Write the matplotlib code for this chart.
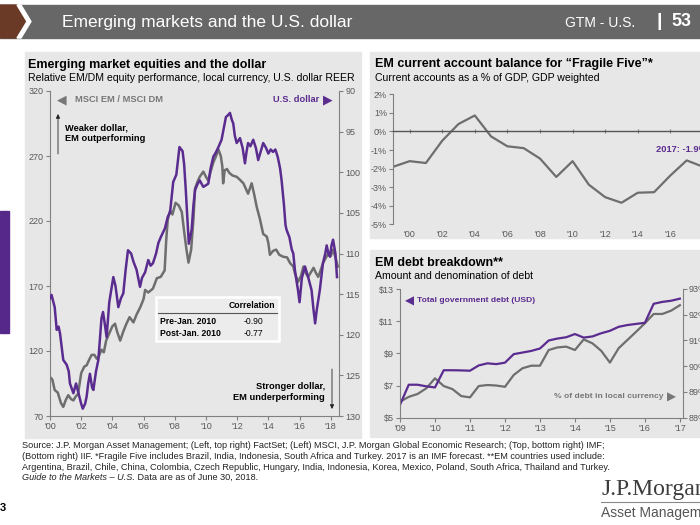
import matplotlib
matplotlib.use("Agg")
import matplotlib.pyplot as plt
from matplotlib.patches import Rectangle, Polygon
from matplotlib.transforms import Affine2D

plt.rcParams["font.family"] = ["Liberation Sans", "DejaVu Sans"]

# left panel: MSCI EM / MSCI DM (left axis), U.S. dollar REER (right axis, inverted)
em_dm_dates = [2000.0, 2000.15, 2000.3, 2000.5, 2000.7, 2000.85, 2001.0, 2001.17, 2001.35, 2001.5,
               2001.65, 2001.8, 2002.0, 2002.2, 2002.35, 2002.5, 2002.67, 2002.85, 2003.0, 2003.1,
               2003.3, 2003.45, 2003.6, 2003.85, 2004.0, 2004.17, 2004.3, 2004.5, 2004.7, 2004.9,
               2005.1, 2005.35, 2005.55, 2005.8, 2006.0, 2006.1, 2006.3, 2006.6, 2006.85, 2007.1,
               2007.35, 2007.45, 2007.55, 2007.7, 2007.85, 2008.05, 2008.25, 2008.45, 2008.6, 2008.75,
               2008.88, 2009.05, 2009.2, 2009.3, 2009.45, 2009.6, 2009.83, 2010.0, 2010.15, 2010.3,
               2010.47, 2010.65, 2010.8, 2010.95, 2011.05, 2011.1, 2011.2, 2011.35, 2011.5, 2011.7,
               2011.97, 2012.15, 2012.4, 2012.55, 2012.7, 2012.93, 2013.1, 2013.25, 2013.45, 2013.67,
               2013.9, 2014.0, 2014.1, 2014.3, 2014.5, 2014.7, 2014.95, 2015.2, 2015.4, 2015.6,
               2015.7, 2015.9, 2016.1, 2016.25, 2016.4, 2016.55, 2016.75, 2016.9, 2017.05, 2017.2,
               2017.35, 2017.5, 2017.7, 2017.85, 2018.0, 2018.15, 2018.3, 2018.45]
em_dm_ratio = [100, 98, 90, 88, 80, 77, 82, 86, 83, 82,
               85, 87, 103, 108, 109, 113, 117, 117, 114, 115,
               121, 119, 128, 135, 139, 141, 135, 128, 135, 141,
               146, 142, 148, 154, 160, 167, 165, 168, 176, 177,
               182, 205, 221, 228, 225, 234, 232, 227, 212, 198,
               188, 198, 222, 245, 250, 254, 258, 254, 251, 258,
               265, 270, 275, 270, 262, 249, 259, 260, 257, 255,
               254, 252, 249, 245, 241, 249, 240, 231, 222, 210,
               208, 203, 194, 197, 198, 194, 192.5, 192, 187.5, 185,
               180, 173, 178, 185, 180, 177, 181, 184, 180, 177,
               182, 187.5, 192, 195, 193, 198, 192, 185]
usd_dates = [2000.0, 2000.1, 2000.3, 2000.43, 2000.55, 2000.64, 2000.85, 2001.0, 2001.07, 2001.2,
             2001.28, 2001.5, 2001.6, 2001.67, 2001.8, 2001.88, 2002.0, 2002.1, 2002.25, 2002.35,
             2002.45, 2002.56, 2002.7, 2002.78, 2002.95, 2003.1, 2003.3, 2003.4, 2003.5, 2003.63,
             2003.8, 2004.06, 2004.2, 2004.38, 2004.55, 2004.7, 2004.85, 2005.0, 2005.2, 2005.35,
             2005.55, 2005.77, 2005.9, 2006.1, 2006.3, 2006.45, 2006.6, 2006.8, 2006.95, 2007.1,
             2007.37, 2007.55, 2007.7, 2007.9, 2008.1, 2008.3, 2008.5, 2008.6, 2008.7, 2008.8,
             2008.9, 2009.08, 2009.2, 2009.3, 2009.45, 2009.6, 2009.83, 2010.0, 2010.15, 2010.3,
             2010.47, 2010.65, 2010.8, 2011.0, 2011.15, 2011.28, 2011.4, 2011.54, 2011.65, 2011.75,
             2011.85, 2011.97, 2012.18, 2012.35, 2012.5, 2012.6, 2012.7, 2012.85, 2013.03, 2013.2,
             2013.35, 2013.5, 2013.67, 2013.85, 2014.0, 2014.15, 2014.3, 2014.45, 2014.6, 2014.75,
             2014.85, 2015.0, 2015.1, 2015.17, 2015.35, 2015.5, 2015.6, 2015.7, 2015.8, 2015.9,
             2016.0, 2016.15, 2016.35, 2016.55, 2016.77, 2016.9, 2017.0, 2017.1, 2017.3, 2017.5,
             2017.65, 2017.74, 2017.85, 2017.95, 2018.05, 2018.15, 2018.3, 2018.4]
usd_reer = [115.5, 115.1, 116.6, 119.4, 119.0, 119.8, 123.1, 123.5, 123.7, 124.5,
            126, 127.2, 126.5, 126, 127, 127.6, 128.5, 129.1, 128.5, 127.6,
            126, 124.8, 126.5, 126.8, 124.5, 123.1, 118, 117.2, 118.5, 120.3,
            116, 112.9, 114, 116.6, 115.5, 114.9, 112, 109.6, 110, 111,
            112, 114.1, 113, 112.3, 110.8, 111.5, 111.2, 110, 108.7, 108,
            106.9, 105.5, 104.9, 101.2, 100.3, 96.9, 97.4, 99, 102, 105.5,
            108.8, 107.1, 104, 102.2, 101.5, 101, 101.8, 101.6, 101.4, 99.5,
            98.1, 97.5, 96.9, 96.0, 94.5, 93.2, 93.0, 92.7, 93.5, 94,
            95.5, 96.4, 95.8, 97, 98.9, 97.5, 96.4, 96.8, 96, 97,
            98.5, 97.5, 96.4, 97, 97.7, 97.2, 97.5, 97.2, 98.1, 99.5,
            101, 104, 106.5, 107.1, 108, 109.5, 110, 112, 113.3, 114.5,
            116, 113, 111.6, 112.9, 114.5, 117, 118.6, 117, 114.5, 111.2,
            110, 109, 110, 110.4, 109, 108.3, 110, 112.9]
corr_periods = ["Pre-Jan. 2010", "Post-Jan. 2010"]
corr_values = [-0.90, -0.77]

# top right: current account, % of GDP
ca_years = list(range(1999, 2019))
ca_pct = [-1.9, -1.6, -1.7, -0.5, 0.4, 0.86, -0.27, -0.8, -0.9, -1.46,
          -2.45, -1.6, -2.87, -3.54, -3.84, -3.3, -3.27, -2.37, -1.56, -1.9]

# bottom right: quarterly debt
debt_quarters = [2009 + q / 4 for q in range(33)]
debt_usd = [5.8, 7.05, 7.05, 6.95, 6.88, 7.95, 7.95, 7.94, 7.92, 8.25, 8.38, 8.33,
            8.42, 8.95, 9.05, 9.15, 9.3, 9.8, 9.92, 10.0, 10.2, 9.98, 10.05, 10.25,
            10.4, 10.65, 10.76, 10.83, 10.9, 12.08, 12.2, 12.27, 12.4]
local_ccy_pct = [88.62, 88.81, 88.92, 89.14, 89.53, 89.23, 89.11, 88.84, 88.79, 89.23, 89.27, 89.25,
                 89.2, 89.66, 89.92, 90.02, 90.02, 90.63, 90.73, 90.76, 90.63, 91.04, 90.89, 90.6,
                 90.14, 90.7, 91.02, 91.34, 91.67, 92.03, 92.03, 92.16, 92.37]

PURPLE = "#5b2c8f"
GRAY = "#6e6e6e"
PANEL = "#e7e7e7"
TICK = "#595959"
SPINE = "#808080"

W, H = 700, 525
fig = plt.figure(figsize=(7, 5.25), dpi=100)
pix = Affine2D().scale(1 / W, -1 / H).translate(0, 1) + fig.transFigure


def box(x0, y0, x1, y1):
    return [x0 / W, 1 - y1 / H, (x1 - x0) / W, (y1 - y0) / H]


def rect(x0, y0, x1, y1, **kw):
    fig.add_artist(Rectangle((x0, y1), x1 - x0, y0 - y1, transform=pix, zorder=-5, **kw))


def style(ax, sides):
    for s in ["left", "right", "top", "bottom"]:
        ax.spines[s].set_visible(s in sides)
        ax.spines[s].set_color(SPINE)
    ax.set_facecolor("none")
    ax.tick_params(labelsize=6.5, colors=SPINE, labelcolor=TICK, length=3, width=0.8, pad=1.5)


# header
rect(0, 5, 700, 38, color="#676767")
fig.add_artist(Polygon([(0, 5), (17, 5), (27, 21.5), (17, 38), (0, 38)], closed=True,
                       transform=pix, color="#6b3a27", zorder=-4))
fig.add_artist(Polygon([(17, 5), (21, 5), (31, 21.5), (21, 38), (17, 38), (27, 21.5)], closed=True,
                       transform=pix, color="white", zorder=-4))
fig.text(62, 22, "Emerging markets and the U.S. dollar", transform=pix, color="white", fontsize=12.5,
         va="center")
fig.text(565, 23, "GTM - U.S.", transform=pix, color="white", fontsize=10, va="center")
fig.text(657, 22, "|", transform=pix, color="white", fontsize=14, va="center", fontweight="bold")
fig.text(671, 22, "53", transform=pix, color="white", fontsize=13, va="center", fontweight="bold")

# panels
rect(25, 52, 361, 438, color=PANEL)
rect(370, 52, 700, 238, color=PANEL)
rect(370, 250, 700, 437, color=PANEL)
rect(0, 211, 9, 333, color="#55288a")

fig.text(28, 65, "Emerging market equities and the dollar", transform=pix, fontsize=9,
         fontweight="bold", va="center")
fig.text(28, 78, "Relative EM/DM equity performance, local currency, U.S. dollar REER", transform=pix,
         fontsize=7.6, va="center")
fig.text(375, 64, "EM current account balance for \u201cFragile Five\u201d*", transform=pix, fontsize=9,
         fontweight="bold", va="center")
fig.text(375, 78, "Current accounts as a % of GDP, GDP weighted", transform=pix, fontsize=7.6, va="center")
fig.text(375, 263, "EM debt breakdown**", transform=pix, fontsize=9, fontweight="bold", va="center")
fig.text(375, 276, "Amount and denomination of debt", transform=pix, fontsize=7.6, va="center")

# ---- left chart
axL = fig.add_axes(box(50, 91, 339, 416))
style(axL, ["left", "bottom"])
axL.plot(em_dm_dates, em_dm_ratio, color=GRAY, lw=1.8)
axL.set_xlim(2000, 2018.53)
axL.set_ylim(70, 320)
axL.set_yticks([70, 120, 170, 220, 270, 320])
axL.set_xticks(range(2000, 2019, 2))
axL.set_xticklabels(["'%02d" % (y % 100) for y in range(2000, 2019, 2)])

axL2 = axL.twinx()
style(axL2, ["right"])
axL2.plot(usd_dates, usd_reer, color=PURPLE, lw=1.8)
axL2.set_ylim(130, 90)
axL2.set_yticks(range(90, 131, 5))

fig.text(57, 100, "\u25c0", transform=pix, color="#777777", fontsize=9, va="center", family="DejaVu Sans")
fig.text(75, 100, "MSCI EM / MSCI DM", transform=pix, color="#777777", fontsize=6.7,
         fontweight="bold", va="center")
fig.text(319, 100, "U.S. dollar", transform=pix, color=PURPLE, fontsize=6.7, fontweight="bold",
         va="center", ha="right")
fig.text(323, 100, "\u25b6", transform=pix, color=PURPLE, fontsize=9, va="center", family="DejaVu Sans")

fig.text(65, 133, "Weaker dollar,\nEM outperforming", transform=pix, fontsize=6.7, fontweight="bold",
         va="center", linespacing=1.15)
axL.annotate("", xy=(58, 114), xytext=(58, 154), xycoords=pix, textcoords=pix,
             arrowprops=dict(arrowstyle="-|>", color="#222222", lw=0.6, mutation_scale=6,
                             shrinkA=0, shrinkB=0))
fig.text(325, 392, "Stronger dollar,\nEM underperforming", transform=pix, fontsize=6.7,
         fontweight="bold", va="center", ha="right", linespacing=1.15)
axL.annotate("", xy=(332, 409), xytext=(332, 369), xycoords=pix, textcoords=pix,
             arrowprops=dict(arrowstyle="-|>", color="#222222", lw=0.6, mutation_scale=6,
                             shrinkA=0, shrinkB=0))

# correlation table
fig.add_artist(Rectangle((156, 341), 123, -44, transform=pix, facecolor="#ececec",
                         edgecolor="white", lw=1.8, zorder=3))
fig.add_artist(plt.Line2D([158, 277], [313, 313], transform=pix, color="#555555", lw=0.8, zorder=4))
fig.text(252, 306, "Correlation", transform=pix, fontsize=6.2, fontweight="bold", ha="center",
         va="center", zorder=5)
for i, (p, v) in enumerate(zip(corr_periods, corr_values)):
    fig.text(160, 321 + 13 * i, p, transform=pix, fontsize=6.2, fontweight="bold", va="center", zorder=5)
    fig.text(253, 321 + 13 * i, "%.2f" % v, transform=pix, fontsize=6.2, ha="center", va="center", zorder=5)

# ---- top right chart
axT = fig.add_axes(box(393.3, 94.3, 719.3, 224.3))
style(axT, ["left", "bottom"])
axT.spines["bottom"].set_position(("data", 0))
axT.spines["bottom"].set_color("#555555")
axT.spines["bottom"].set_linewidth(1.0)
axT.plot(ca_years, ca_pct, color=GRAY, lw=1.6)
axT.set_xlim(1999, 2019)
axT.set_ylim(-5, 2)
axT.set_yticks(range(-5, 3))
axT.set_yticklabels(["%d%%" % v for v in range(-5, 3)])
axT.set_xticks(range(2000, 2019, 2))
axT.tick_params(axis="x", direction="inout", length=3, labelbottom=False)
sec = axT.secondary_xaxis("bottom")
sec.spines["bottom"].set_visible(False)
sec.set_xticks(range(2000, 2017, 2))
sec.set_xticklabels(["'%02d" % (y % 100) for y in range(2000, 2017, 2)])
sec.tick_params(length=0, labelsize=6.5, labelcolor=TICK, pad=4)
axT.text(2015.1, -0.95, "%d: %.1f%%" % (ca_years[-2], ca_pct[-1]), color=PURPLE, fontsize=6.7,
         fontweight="bold", va="center")

# ---- bottom right chart
axB = fig.add_axes(box(400, 289, 682.7, 417.7))
style(axB, ["left", "bottom"])
axB.set_xlim(2009, 2017.08)
axB.set_ylim(5, 13)
axB.set_yticks(range(5, 14, 2))
axB.set_yticklabels(["$%d" % v for v in range(5, 14, 2)])
axB.set_xticks(range(2009, 2018))
axB.set_xticklabels(["'%02d" % (y % 100) for y in range(2009, 2018)])

axB2 = axB.twinx()
style(axB2, ["right"])
axB2.plot(debt_quarters, local_ccy_pct, color=GRAY, lw=1.6)
axB2.set_ylim(88, 93)
axB2.set_yticks(range(88, 94))
axB2.set_yticklabels(["%d%%" % v for v in range(88, 94)])
axB.plot(debt_quarters, debt_usd, color=PURPLE, lw=1.6)
axB.set_zorder(axB2.get_zorder() + 1)

fig.text(405, 301, "\u25c0", transform=pix, color=PURPLE, fontsize=8.5, va="center", family="DejaVu Sans")
fig.text(417, 301, "Total government debt (USD)", transform=pix, color=PURPLE, fontsize=6.1,
         fontweight="bold", va="center")
fig.text(664, 397, "% of debt in local currency", transform=pix, color="#777777", fontsize=6.1,
         fontweight="bold", va="center", ha="right")
fig.text(667, 397, "\u25b6", transform=pix, color="#777777", fontsize=8.5, va="center", family="DejaVu Sans")

# ---- footnotes
notes = [
    "Source: J.P. Morgan Asset Management; (Left, top right) FactSet; (Left) MSCI, J.P. Morgan Global "
    "Economic Research; (Top, bottom right) IMF;",
    "(Bottom right) IIF. *Fragile Five includes Brazil, India, Indonesia, South Africa and Turkey. "
    "2017 is an IMF forecast. **EM countries used include:",
    "Argentina, Brazil, Chile, China, Colombia, Czech Republic, Hungary, India, Indonesia, Korea, "
    "Mexico, Poland, South Africa, Thailand and Turkey.",
]
for i, line in enumerate(notes):
    fig.text(22, 446 + 10.5 * i, line, transform=pix, fontsize=6.6, va="center", color="#222222")
it = fig.text(22, 477.5, "Guide to the Markets \u2013 U.S.", transform=pix, fontsize=6.6, va="center",
              style="italic", color="#222222")
r = fig.canvas.get_renderer()
bb = it.get_window_extent(r)
fig.text(bb.x1, 477.5, " Data are as of June 30, 2018.", transform=pix, fontsize=6.6,
         va="center", color="#222222")

fig.text(0, 508, "3", transform=pix, fontsize=8, fontweight="bold", va="center")
fig.text(601, 490, "J.P.Morgan", transform=pix, fontsize=17, va="center", color="#3d3d3d",
         family=["Liberation Serif", "DejaVu Serif"])
fig.add_artist(plt.Line2D([601, 700], [502, 502], transform=pix, color="#888888", lw=0.8))
fig.text(601, 513, "Asset Management", transform=pix, fontsize=10, va="center", color="#555555")

fig.savefig("out.png", dpi=100)
